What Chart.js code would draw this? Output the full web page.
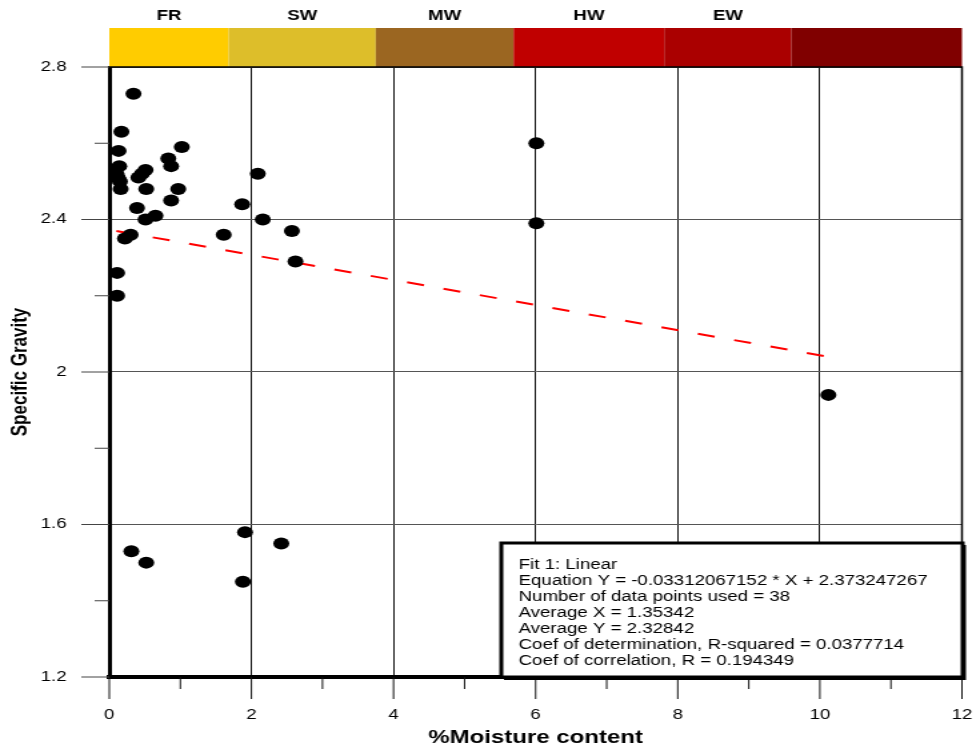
<!DOCTYPE html>
<html>
<head>
<meta charset="utf-8">
<title>Specific Gravity vs Moisture content</title>
<script src="https://cdn.jsdelivr.net/npm/chart.js@4.4.1/dist/chart.umd.min.js"></script>
<style>
  html, body { margin: 0; padding: 0; background: #fff; }
  /* the original figure is stretched sideways, so the canvas is drawn narrow and widened by css */
  #sgChart { display: block; width: 976px; height: 749px; }
</style>
</head>
<body>
<canvas id="sgChart" width="732" height="749" style="width:976px;height:749px"></canvas>
<script>
// samples
const moisture = [0.34, 0.17, 0.13, 0.14, 0.10, 0.12, 0.15, 0.16, 0.83, 1.02,
                  0.87, 0.51, 0.46, 0.41, 0.52, 0.97, 0.87, 0.39, 0.51, 0.65,
                  0.30, 0.22, 0.11, 0.11, 1.61, 1.87, 2.09, 2.16, 2.57, 2.62,
                  6.01, 6.01, 10.12, 0.31, 0.52, 1.91, 1.88, 2.42];
const gravity = [2.73, 2.63, 2.58, 2.54, 2.52, 2.51, 2.50, 2.48, 2.56, 2.59,
                 2.54, 2.53, 2.52, 2.51, 2.48, 2.48, 2.45, 2.43, 2.40, 2.41,
                 2.36, 2.35, 2.26, 2.20, 2.36, 2.44, 2.52, 2.40, 2.37, 2.29,
                 2.60, 2.39, 1.94, 1.53, 1.50, 1.58, 1.45, 1.55];

// linear fit line ends
const fitX = [0.10, 10.12];
const fitY = [2.37, 2.04];

const fitLines = [
    'Fit 1: Linear',
    'Equation Y = -0.03312067152 * X + 2.373247267',
    'Number of data points used = 38',
    'Average X = 1.35342',
    'Average Y = 2.32842',
    'Coef of determination, R-squared = 0.0377714',
    'Coef of correlation, R = 0.194349'
];

// weathering zones along the top
const zoneNames = ['FR', 'SW', 'MW', 'HW', 'EW', ''];
const zoneEdges = [0, 1.68, 3.75, 5.69, 7.81, 9.6, 12];
const zoneColors = ['#FFCC00', '#DDBE2A', '#9B6621', '#C00000', '#AA0000', '#800000'];

const xTicks = [0, 1, 2, 3, 4, 5, 6, 7, 8, 9, 10, 11, 12];
const xTickLabels = ['0', '', '2', '', '4', '', '6', '', '8', '', '10', '', '12'];
const yTicks = [1.2, 1.4, 1.6, 1.8, 2.0, 2.2, 2.4, 2.6, 2.8];
const yTickLabels = ['1.2', '', '1.6', '', '2', '', '2.4', '', '2.8'];

const FONT = '"Liberation Sans", Arial, Helvetica, sans-serif';

// coloured band, frame, tick marks and fit box
const decorPlugin = {
    id: 'decor',
    afterDraw(chart) {
        const ctx = chart.ctx;
        const xs = chart.scales.x;
        const ys = chart.scales.y;
        const area = chart.chartArea;

        ctx.save();

        // zone band
        const bandTop = 28;
        for (let i = 0; i < zoneNames.length; i++) {
            const x0 = xs.getPixelForValue(zoneEdges[i]);
            const x1 = xs.getPixelForValue(zoneEdges[i + 1]);
            ctx.fillStyle = zoneColors[i];
            ctx.fillRect(x0, bandTop, x1 - x0, area.top - bandTop);
            if (zoneNames[i]) {
                ctx.fillStyle = '#000';
                ctx.font = 'bold 14px ' + FONT;
                ctx.textAlign = 'center';
                ctx.textBaseline = 'middle';
                ctx.fillText(zoneNames[i], (x0 + x1) / 2, 16);
            }
        }

        // thin top and right frame
        ctx.strokeStyle = '#000';
        ctx.lineWidth = 1.5;
        ctx.beginPath();
        ctx.moveTo(area.left, area.top);
        ctx.lineTo(area.right, area.top);
        ctx.lineTo(area.right, area.bottom);
        ctx.stroke();

        // outside tick marks
        ctx.lineWidth = 1;
        ctx.strokeStyle = '#111';
        xTicks.forEach((v, i) => {
            const px = xs.getPixelForValue(v);
            const len = xTickLabels[i] ? 22 : 12;
            ctx.beginPath();
            ctx.moveTo(px, area.bottom);
            ctx.lineTo(px, area.bottom + len);
            ctx.stroke();
        });
        ctx.strokeStyle = '#444';
        yTicks.forEach((v, i) => {
            const py = ys.getPixelForValue(v);
            const len = yTickLabels[i] ? 21 : 11;
            ctx.beginPath();
            ctx.moveTo(area.left - len, py);
            ctx.lineTo(area.left, py);
            ctx.stroke();
        });

        // fit summary box
        const bx0 = 376, by0 = 543, bx1 = 722, by1 = area.bottom;
        ctx.fillStyle = '#fff';
        ctx.fillRect(bx0, by0, bx1 - bx0, by1 - by0);
        ctx.fillStyle = '#000';
        ctx.fillRect(bx1, by0 + 2, 2.5, by1 - by0 + 1);
        ctx.fillRect(bx0 + 2, by1, bx1 - bx0, 3);
        ctx.lineWidth = 3;
        ctx.strokeStyle = '#000';
        ctx.strokeRect(bx0, by0, bx1 - bx0, by1 - by0);

        ctx.font = '14px ' + FONT;
        ctx.textAlign = 'left';
        ctx.textBaseline = 'middle';
        fitLines.forEach((line, i) => {
            ctx.fillText(line, 389, 565 + i * 16);
        });

        ctx.restore();
    }
};

const ctx = document.getElementById('sgChart').getContext('2d');

new Chart(ctx, {
    type: 'scatter',
    data: {
        datasets: [
            {
                label: 'Specific Gravity',
                data: moisture.map((m, i) => ({ x: m, y: gravity[i] })),
                backgroundColor: '#000',
                borderWidth: 0,
                pointRadius: 6,
                pointHoverRadius: 6,
                pointStyle: 'circle'
            },
            {
                type: 'line',
                label: 'Fit 1',
                data: fitX.map((x, i) => ({ x: x, y: fitY[i] })),
                borderColor: '#FF0000',
                borderWidth: 2,
                borderDash: [13, 15],
                pointRadius: 0,
                fill: false,
                tension: 0
            }
        ]
    },
    options: {
        responsive: false,
        animation: false,
        devicePixelRatio: 1,
        layout: {
            padding: { top: 67, right: 10.5, bottom: 0, left: 0 }
        },
        plugins: {
            legend: { display: false },
            tooltip: { enabled: false }
        },
        scales: {
            x: {
                type: 'linear',
                min: 0,
                max: 12,
                afterBuildTicks: (scale) => { scale.ticks = xTicks.map(v => ({ value: v })); },
                afterFit: (scale) => { scale.height = 72; },
                ticks: {
                    autoSkip: false,
                    maxRotation: 0,
                    padding: 0,
                    color: '#000',
                    font: { family: FONT, size: 14 },
                    callback: (value, index) => xTickLabels[index]
                },
                grid: {
                    drawTicks: true,
                    tickLength: 30,
                    tickColor: 'rgba(0,0,0,0)',
                    lineWidth: 1,
                    color: (c) => xTickLabels[c.index] ? '#111' : 'rgba(0,0,0,0)'
                },
                border: { display: true, color: '#000', width: 4 },
                title: {
                    display: true,
                    text: '%Moisture content',
                    color: '#000',
                    font: { family: FONT, size: 18, weight: 'bold' },
                    padding: { top: 0, bottom: 0 }
                }
            },
            y: {
                type: 'linear',
                min: 1.2,
                max: 2.8,
                afterBuildTicks: (scale) => { scale.ticks = yTicks.map(v => ({ value: v })); },
                afterFit: (scale) => { scale.width = 82; },
                ticks: {
                    autoSkip: false,
                    padding: 0,
                    color: '#000',
                    font: { family: FONT, size: 14 },
                    callback: (value, index) => yTickLabels[index]
                },
                grid: {
                    drawTicks: true,
                    tickLength: 32,
                    tickColor: 'rgba(0,0,0,0)',
                    lineWidth: 1,
                    color: (c) => yTickLabels[c.index] ? '#555' : 'rgba(0,0,0,0)'
                },
                border: { display: true, color: '#000', width: 3 },
                title: {
                    display: true,
                    text: 'Specific Gravity',
                    color: '#000',
                    font: { family: FONT, size: 17, weight: 'bold' },
                    padding: { top: 5, bottom: 0 }
                }
            }
        }
    },
    plugins: [decorPlugin]
});
</script>
</body>
</html>
